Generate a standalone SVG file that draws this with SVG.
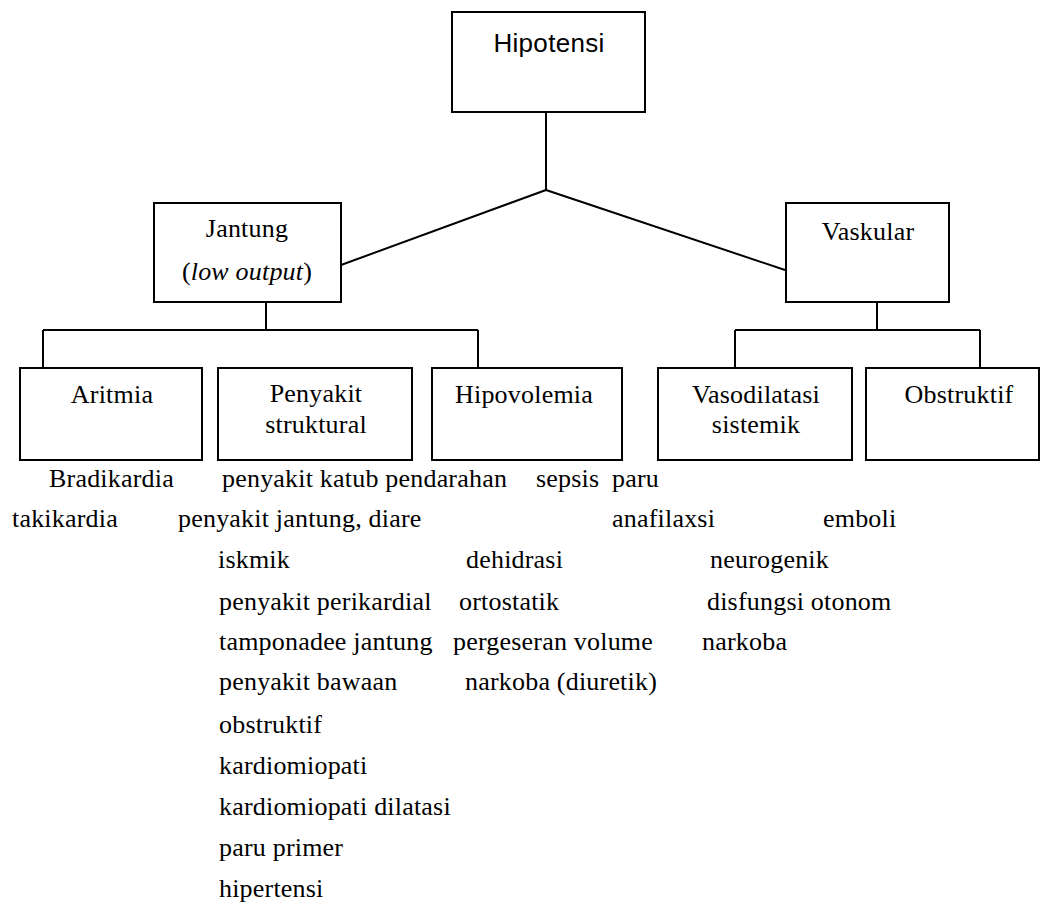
<svg xmlns="http://www.w3.org/2000/svg" width="1041" height="908" viewBox="0 0 1041 908">
<style>
.box{fill:#fff;stroke:#000;stroke-width:2}
.ln{fill:none;stroke:#000;stroke-width:2}
.t{font-family:"Liberation Serif","Times New Roman",serif;font-size:26px;letter-spacing:0.2px;fill:#000}
.c{text-anchor:middle}
.s{font-family:"Liberation Sans",Arial,sans-serif;font-size:26px;letter-spacing:0.3px;fill:#000;text-anchor:middle}
</style>
<rect width="1041" height="908" fill="#fff"/>
<g id="connectors">
<path class="ln" d="M546,112 V190 M546,190 L341,265 M546,190 L785,270"/>
<path class="ln" d="M266,302 V330 M43,330 H478 M43,330 V368 M478,330 V368"/>
<path class="ln" d="M877,302 V330 M735,330 H980 M735,330 V368 M980,330 V368"/>
</g>
<g id="hipotensi">
<rect class="box" x="452" y="12" width="193" height="100"/>
<text class="s" x="549" y="52">Hipotensi</text>
</g>
<g id="jantung">
<rect class="box" x="154" y="203" width="187" height="99"/>
<text class="t c" x="247" y="237">Jantung</text>
<text class="t c" x="247" y="280">(<tspan font-style="italic">low output</tspan>)</text>
</g>
<g id="vaskular">
<rect class="box" x="786" y="203" width="163" height="99"/>
<text class="t c" x="868" y="240">Vaskular</text>
</g>
<g id="aritmia">
<rect class="box" x="20" y="368" width="182" height="92"/>
<text class="t c" x="112" y="403">Aritmia</text>
</g>
<g id="penyakit-struktural">
<rect class="box" x="218" y="368" width="194" height="92"/>
<text class="t c" x="316" y="402">Penyakit</text>
<text class="t c" x="316" y="433">struktural</text>
</g>
<g id="hipovolemia">
<rect class="box" x="432" y="368" width="190" height="92"/>
<text class="t c" x="524" y="403">Hipovolemia</text>
</g>
<g id="vasodilatasi">
<rect class="box" x="658" y="368" width="194" height="92"/>
<text class="t c" x="756" y="403">Vasodilatasi</text>
<text class="t c" x="756" y="433">sistemik</text>
</g>
<g id="obstruktif">
<rect class="box" x="866" y="368" width="173" height="92"/>
<text class="t c" x="959" y="403">Obstruktif</text>
</g>
<g id="lists">
<text class="t" x="49" y="487">Bradikardia</text>
<text class="t" x="222" y="487">penyakit katub pendarahan</text>
<text class="t" x="536" y="487">sepsis</text>
<text class="t" x="612" y="487">paru</text>
<text class="t" x="12" y="527">takikardia</text>
<text class="t" x="178" y="527">penyakit jantung, diare</text>
<text class="t" x="612" y="527">anafilaxsi</text>
<text class="t" x="823" y="527">emboli</text>
<text class="t" x="218" y="568">iskmik</text>
<text class="t" x="466" y="568">dehidrasi</text>
<text class="t" x="710" y="568">neurogenik</text>
<text class="t" x="219" y="610">penyakit perikardial</text>
<text class="t" x="459" y="610">ortostatik</text>
<text class="t" x="707" y="610">disfungsi otonom</text>
<text class="t" x="219" y="650">tamponadee jantung</text>
<text class="t" x="453" y="650">pergeseran volume</text>
<text class="t" x="702" y="650">narkoba</text>
<text class="t" x="219" y="690">penyakit bawaan</text>
<text class="t" x="465" y="690">narkoba (diuretik)</text>
<text class="t" x="219" y="733">obstruktif</text>
<text class="t" x="219" y="774">kardiomiopati</text>
<text class="t" x="219" y="815">kardiomiopati dilatasi</text>
<text class="t" x="219" y="856">paru primer</text>
<text class="t" x="219" y="897">hipertensi</text>
</g>
</svg>
